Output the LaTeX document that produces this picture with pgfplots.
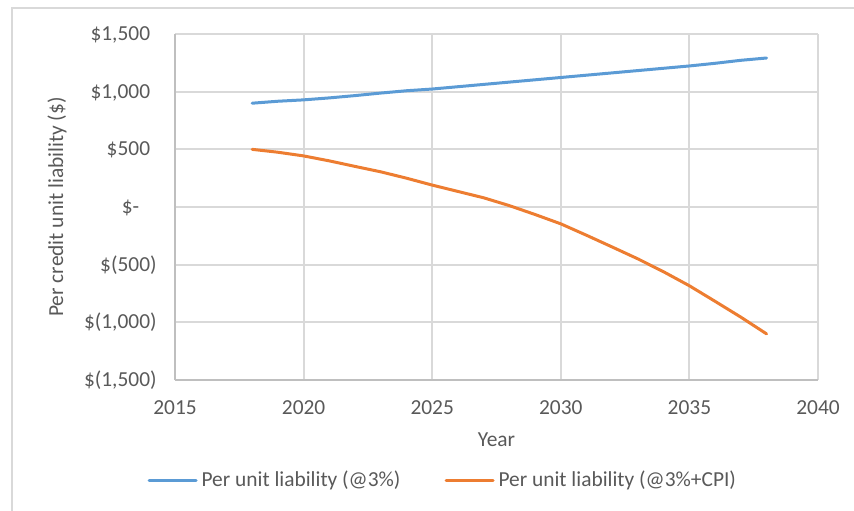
\documentclass[border=0pt]{standalone}
\usepackage{fontspec}
\setmainfont{Carlito}
\usepackage{pgfplots}
\pgfplotsset{compat=1.18}
\definecolor{txt}{HTML}{595959}
\definecolor{gridc}{HTML}{D9D9D9}
\definecolor{axc}{HTML}{BFBFBF}
\definecolor{sblue}{HTML}{5B9BD5}
\definecolor{sorange}{HTML}{ED7D31}
\newcommand{\cf}{\fontsize{10.7}{12.5}\selectfont}
\begin{document}
\cf
\begin{tikzpicture}
\path[use as bounding box] (-87.5pt,-65pt) rectangle (339.5pt,190pt);
\draw[gridc, line width=1pt] (-81.5pt,-70pt) -- (-81.5pt,186pt) -- (345pt,186pt);
\begin{axis}[
  at={(0pt,0pt)}, anchor=south west,
  scale only axis, width=321.5pt, height=173pt,
  xmin=2015, xmax=2040, ymin=-1500, ymax=1500,
  xtick={2015,2020,...,2040},
  ytick={-1500,-1000,-500,0,500,1000,1500},
  yticklabels={\$(1{,}500),\$(1{,}000),\$(500),\$-\phantom{0)},\$500\phantom{)},\$1{,}000\phantom{)},\$1{,}500\phantom{)}},
  /pgf/number format/assume math mode=true,
  /pgf/number format/1000 sep={},
  major tick length=0pt,
  grid=major,
  major grid style={gridc, line width=1pt},
  axis line style={gridc, line width=1pt},
  axis x line*=bottom, axis y line*=left,
  x axis line style={axc}, y axis line style={axc},
  ticklabel style={text=txt, font=\cf},
  xticklabel style={anchor=north, inner sep=0pt, yshift=-10pt},
  yticklabel style={anchor=east, inner sep=0pt, xshift=-9pt},
  xlabel={Year},
  ylabel={Per credit unit liability (\$)},
  label style={text=txt, font=\cf},
  xlabel style={at={(axis description cs:0.5,-0.173)}, anchor=center},
  ylabel style={at={(axis description cs:-0.1835,0.5)}, anchor=center},
  legend columns=2,
  legend style={at={(axis description cs:0.418,-0.289)}, anchor=center, draw=none, fill=none, text=txt, font=\cf, /tikz/every even column/.append style={column sep=20pt}},
  legend image code/.code={\draw[#1, line width=1.5pt] (0pt,0pt) -- (23.5pt,0pt);},
  legend cell align=left,
]
\addplot[sblue, line width=1.5pt, line join=round, line cap=round] coordinates {
(2018,900) (2019,917) (2020,929) (2021,946) (2022,966) (2023,988) (2024,1008)
(2025,1023) (2026,1043) (2027,1063) (2028,1083) (2029,1103) (2030,1123)
(2031,1143) (2032,1163) (2033,1183) (2034,1203) (2035,1223) (2036,1246)
(2037,1272) (2038,1292)};
\addlegendentry{Per unit liability (@3\%)}
\addplot[sorange, line width=1.5pt, line join=round, line cap=round] coordinates {
(2018,500) (2019,475) (2020,443) (2021,400) (2022,352) (2023,305) (2024,250)
(2025,190) (2026,135) (2027,80) (2028,12) (2029,-65) (2030,-146)
(2031,-245) (2032,-347) (2033,-450) (2034,-562) (2035,-683) (2036,-818)
(2037,-955) (2038,-1100)};
\addlegendentry{Per unit liability (@3\%+CPI)}
\end{axis}
\end{tikzpicture}
\end{document}
